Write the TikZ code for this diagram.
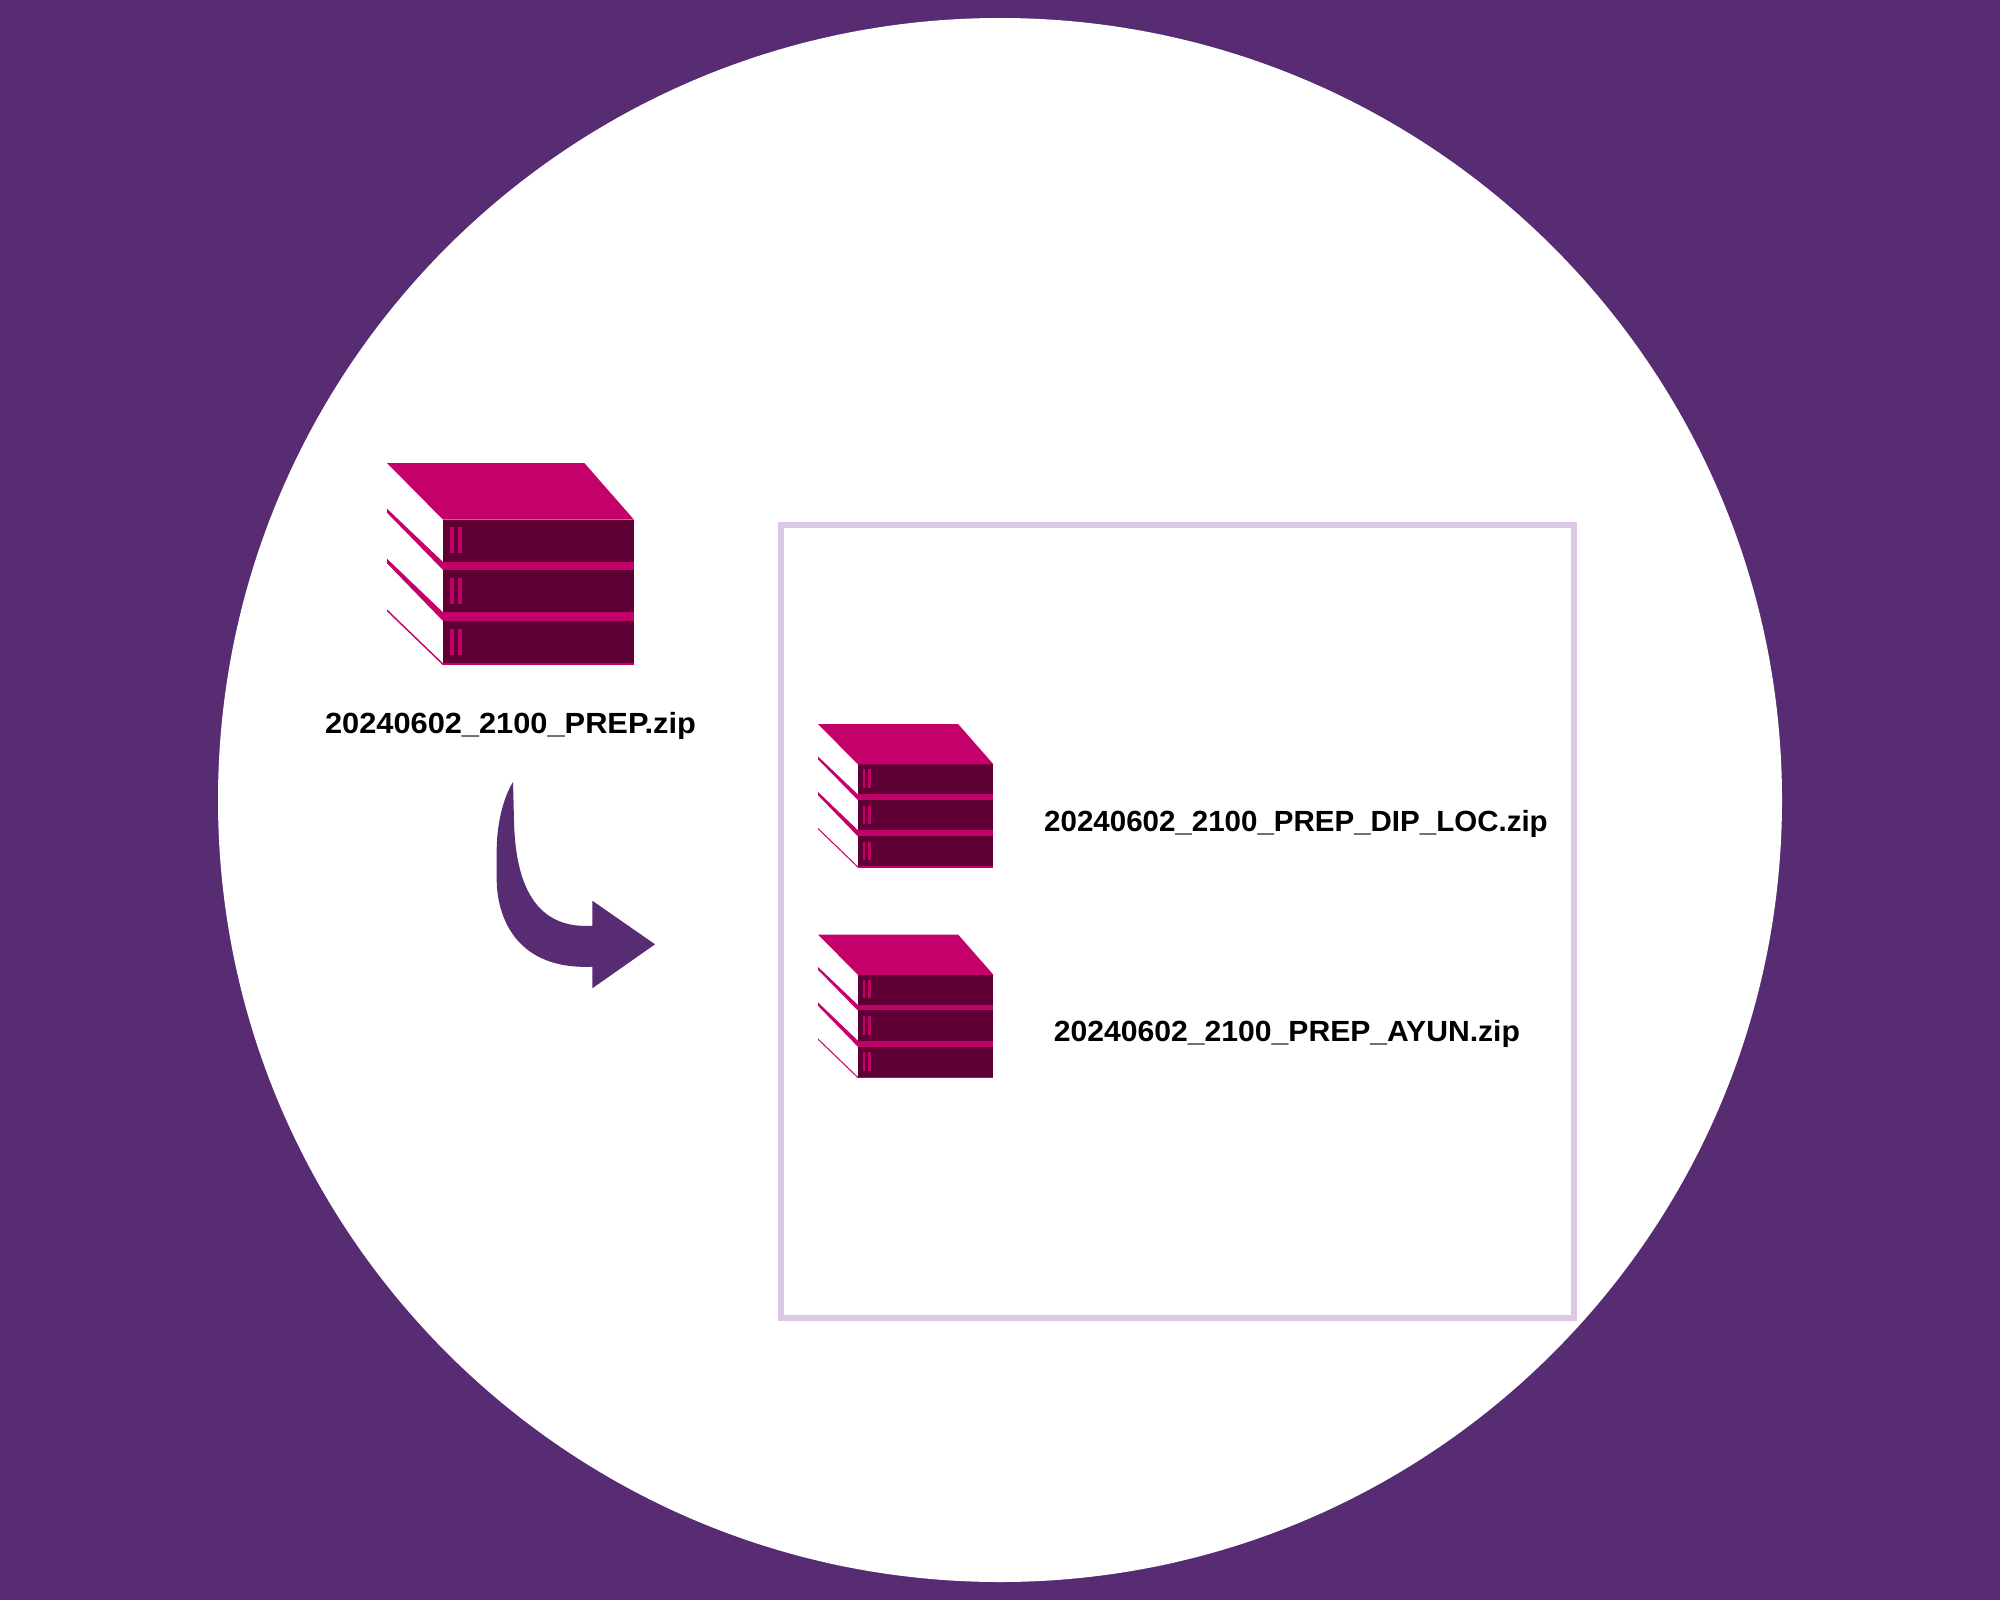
\documentclass[tikz,border=0pt]{standalone}
\usepackage{fontspec}
\setmainfont{Liberation Sans}
\definecolor{bgpurple}{HTML}{582C73}
\definecolor{zipmagenta}{HTML}{C4006A}
\definecolor{zipdark}{HTML}{5F0035}
\definecolor{boxlilac}{HTML}{DCC8E2}
\tikzset{
	filelabel/.style={inner sep=0pt, anchor=base, transform shape, font=\fontsize{8.3}{10}\selectfont\bfseries},
	zipstack/.pic={
		\fill [zipdark] (56,56.7) rectangle (247,202.3);
		\fill [zipmagenta] (0,0) -- (197.3,0) -- (247,56.7) -- (56,56.7) -- cycle;
		\fill [zipmagenta] (56,99) rectangle (247,107);
		\fill [zipmagenta] (56,149.3) rectangle (247,158);
		\fill [zipmagenta] (56,200.3) rectangle (247,202.3);
		\fill [zipmagenta] (0,45.7) -- (56,99) -- (56,107) -- (0,49.7) -- cycle;
		\fill [zipmagenta] (0,95.7) -- (56,149.3) -- (56,158) -- (0,100.3) -- cycle;
		\fill [zipmagenta] (0,146.3) -- (56,200.3) -- (56,202.3) -- (0,148.3) -- cycle;
		\foreach \y in {64,115,166} {
			\fill [zipmagenta] (63,\y) rectangle (66.7,\y+26);
			\fill [zipmagenta] (71,\y) rectangle (75.3,\y+26);
		}
	}
}
\begin{document}
\begin{tikzpicture}[x=0.01cm,y=-0.01cm]
	\useasboundingbox (0,0) rectangle (2000,1600);
	\fill [bgpurple] (0,0) rectangle (2000,1600);
	\fill [white] (1000,800) circle [radius=782];
	\draw [boxlilac, line width=1.7pt] (781,524.7) rectangle (1573.7,1317.7);% Result box

	\pic at (387,463) {zipstack};
	\pic [scale=0.71] at (818,724) {zipstack};
	\pic [scale=0.71] at (818,934.5) {zipstack};

	\node [filelabel, xscale=1.055] (PrepLabel) at (510.5,733.3) {20240602\_2100\_PREP.zip};
	\node [filelabel, xscale=1.011] (DipLabel) at (1296,831.7) {20240602\_2100\_PREP\_DIP\_LOC.zip};
	\node [filelabel, xscale=1.032] (AyunLabel) at (1287,1041.7) {20240602\_2100\_PREP\_AYUN.zip};

	% Curved arrow
	\fill [bgpurple] (513,782) -- (514,820)
		.. controls (515,875) and (530,930) .. (592.3,925.7)
		-- (592.3,900.7) -- (655,944.3) -- (592.3,988.3) -- (592.3,966.7)
		.. controls (565,968) and (540,962) .. (522,945)
		.. controls (503,927) and (496.7,900) .. (496.7,880)
		-- (496.7,850)
		.. controls (496.7,825) and (503,798) .. (513,782) -- cycle;
\end{tikzpicture}
\end{document}
